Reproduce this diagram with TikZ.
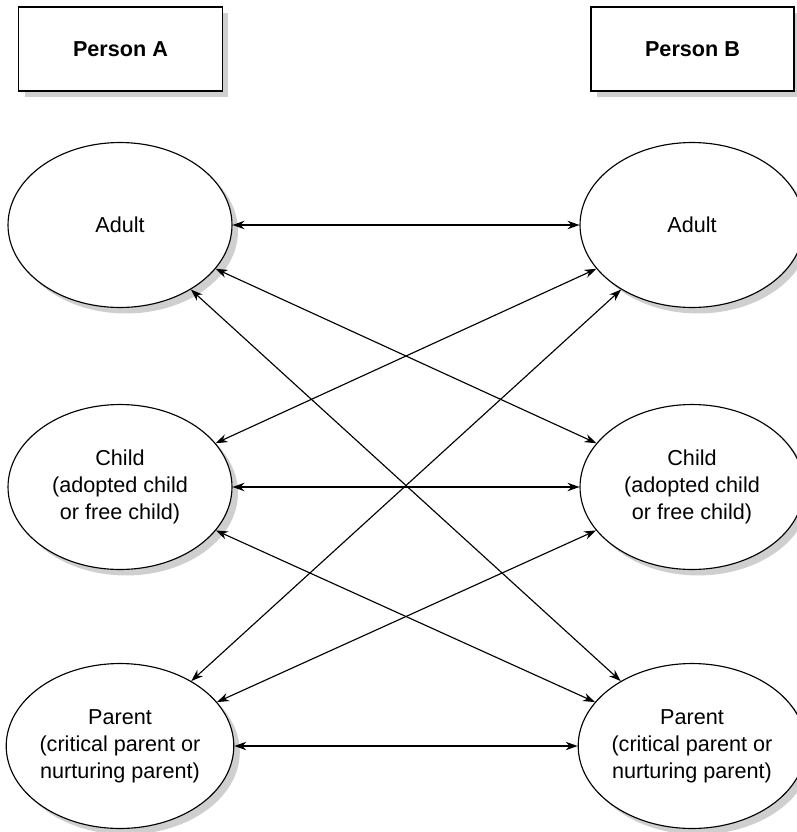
\documentclass[tikz,border=0pt]{standalone}
\usepackage{fontspec}
\setmainfont{Liberation Sans}
\usetikzlibrary{shapes.geometric,shadows,arrows.meta}

\begin{document}
\begin{tikzpicture}
        [x=0.02cm,y=-0.02cm,>={Stealth[length=6.8pt,width=4.8pt]},
        shade/.style={drop shadow={shadow xshift=0.12cm,shadow yshift=-0.12cm,fill=black!19,opacity=1}},
        person/.style={draw,line width=0.65pt,fill=white,shade,minimum width=4.08cm,minimum height=1.68cm,
            inner sep=0pt,font=\fontsize{12.3}{15.3}\selectfont\bfseries},
        ego/.style={ellipse,draw,line width=0.65pt,fill=white,shade,minimum width=4.48cm,minimum height=3.3cm,
            inner sep=0pt,align=center,font=\fontsize{12.3}{15.3}\selectfont},
        link/.style={<->,line width=0.65pt}]

        \useasboundingbox (0,0) rectangle (797,832);

        % heads
        \node[person] (pa) at (120.5,49) {Person A};
        \node[person,minimum width=4.06cm] (pb) at (692.5,49) {Person B};

        % ego states, person A
        \node[ego] (adultA) at (120,225) {Adult};
        \node[ego] (childA) at (120,487) {Child\\(adopted child\\or free child)};
        \node[ego] (parentA) at (120,746) {Parent\\(critical parent or\\nurturing parent)};

        % ego states, person B
        \node[ego] (adultB) at (692,225) {Adult};
        \node[ego] (childB) at (692,487) {Child\\(adopted child\\or free child)};
        \node[ego] (parentB) at (692,746) {Parent\\(critical parent or\\nurturing parent)};

        % transactions
        \draw[link] (adultA) -- (adultB);
        \draw[link] (childA) -- (childB);
        \draw[link] (parentA) -- (parentB);
        \draw[link] (adultA) -- (childB);
        \draw[link] (adultA) -- (parentB);
        \draw[link] (childA) -- (adultB);
        \draw[link] (childA) -- (parentB);
        \draw[link] (parentA) -- (adultB);
        \draw[link] (parentA) -- (childB);

    \end{tikzpicture}
\end{document}
